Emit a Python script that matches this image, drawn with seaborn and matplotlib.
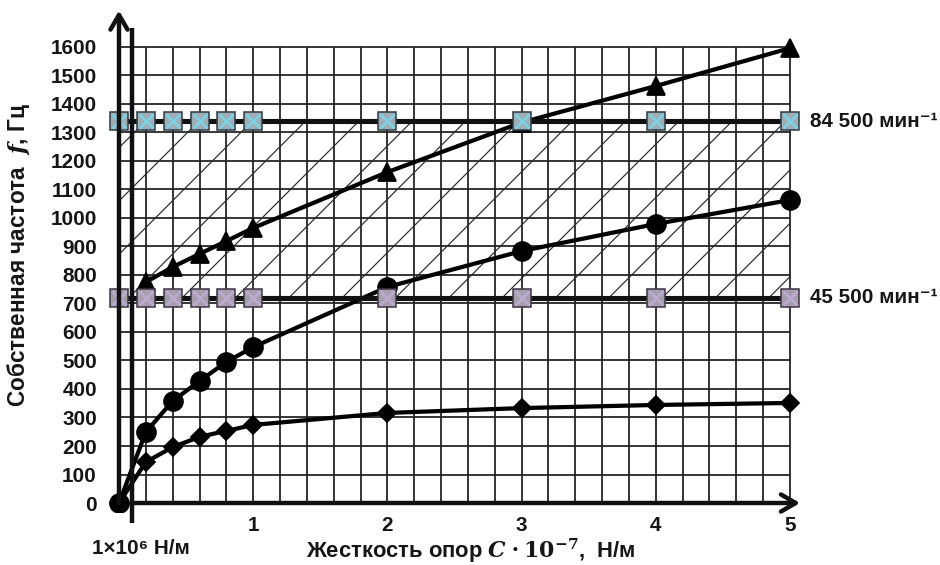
import numpy as np
import matplotlib
matplotlib.use("Agg")
import matplotlib.pyplot as plt
import seaborn as sns

# ---------------- data ----------------
x_tri = [0.2, 0.4, 0.6, 0.8, 1.0, 2, 3, 4, 5]
freq_tri = [775, 828, 874, 919, 965, 1161, 1335, 1463, 1596]
x_full = [0, 0.2, 0.4, 0.6, 0.8, 1.0, 2, 3, 4, 5]
freq_circle = [0, 249, 358, 428, 495, 547, 758, 884, 979, 1063]
freq_diamond = [0, 144, 196, 232, 253, 274, 316, 333, 344, 351]
limit_x = [0, 0.2, 0.4, 0.6, 0.8, 1.0, 2, 3, 4, 5]
limit_high = 1340
limit_low = 720
limit_labels = ["84 500 мин⁻¹", "45 500 мин⁻¹"]
y_ticks = list(range(0, 1700, 100))
x_ticks = [1, 2, 3, 4, 5]
x_tick_labels = ["1", "2", "3", "4", "5"]
origin_label = "1×10⁶ Н/м"
x_label = r"Жесткость опор $\mathit{C}\cdot\mathbf{10}^{\mathbf{-7}}$,  Н/м"
y_label = r"Собственная частота  $\mathit{f}$, Гц"

# ---------------- style ----------------
sns.set_theme(style="white")
plt.rcParams["font.family"] = ["Liberation Sans", "DejaVu Sans"]
plt.rcParams["font.weight"] = "bold"
plt.rcParams["mathtext.fontset"] = "dejavuserif"
plt.rcParams["hatch.linewidth"] = 0.55
plt.rcParams["hatch.color"] = "#2f2f2f"

TXT = "#161616"
FS = 9.3

fig = plt.figure(figsize=(940 / 160, 565 / 160), dpi=160)
ax = fig.add_axes([0.11232, 0.0946, 0.74952, 0.8878])
ax.set_xlim(-0.1, 5.15)
ax.set_ylim(-30, 1730)
for s in ax.spines.values():
    s.set_visible(False)

# grid (only inside data area)
ax.vlines(np.arange(0, 5.001, 0.2), 0, 1600, color="#222222", lw=0.8, zorder=1)
ax.hlines(y_ticks, 0, 5, color="#222222", lw=0.8, zorder=1)

# hatched band between the two speed limits
ax.fill_between([0, 5], limit_low, limit_high, facecolor="none",
                edgecolor="#2f2f2f", hatch="/", lw=0, zorder=1.5)

# curves
common = dict(ax=ax, color="black", lw=1.9, markeredgecolor="black",
              markeredgewidth=0.8, zorder=3, legend=False)
sns.lineplot(x=x_tri, y=freq_tri, marker="^", markersize=8.5, **common)
sns.lineplot(x=x_full, y=freq_circle, marker="o", markersize=8.5, **common)
sns.lineplot(x=x_full, y=freq_diamond, marker="D", markersize=6, **common)

# speed-limit lines with square markers
for val, face, xcol, edge in [(limit_high, "#9fadb4", "#7fcfe0", "#2d3d48"),
                              (limit_low, "#a59fab", "#bba9d0", "#3d3547")]:
    sns.lineplot(x=limit_x, y=[val] * len(limit_x), ax=ax, color="#111111",
                 lw=2.3, marker="s", markersize=7.8, markerfacecolor=face,
                 markeredgecolor=edge, markeredgewidth=0.7, zorder=4, legend=False)
    ax.plot(limit_x, [val] * len(limit_x), ls="none", marker="x",
            markersize=6, markeredgewidth=1.3, color=xcol, zorder=4.5)

# labels for the limits
for val, lab in zip([limit_high, limit_low], limit_labels):
    ax.text(5.15, val, lab, fontsize=FS, color=TXT, va="center", ha="left",
            fontweight="bold", clip_on=False)

# axes with arrows
ax.annotate("", xy=(0, 1728), xytext=(0, 0),
            arrowprops=dict(arrowstyle="->,head_length=0.55,head_width=0.32",
                            lw=2.0, color="#111111", shrinkA=0, shrinkB=0),
            annotation_clip=False, zorder=6)
ax.annotate("", xy=(5.075, 0), xytext=(0.1, 0),
            arrowprops=dict(arrowstyle="->,head_length=0.55,head_width=0.32",
                            lw=2.0, color="#111111", shrinkA=0, shrinkB=0),
            annotation_clip=False, zorder=6)
ax.plot([0.1, 0.1], [-70, 1665], color="#111111", lw=2.0, zorder=6,
        clip_on=False, solid_capstyle="butt")

# ticks
ax.set_yticks(y_ticks)
ax.set_yticklabels([str(v) for v in y_ticks])
ax.set_xticks(x_ticks)
ax.set_xticklabels(x_tick_labels)
ax.tick_params(axis="both", length=0, labelsize=FS, labelcolor=TXT)
ax.tick_params(axis="y", pad=3.9)
ax.tick_params(axis="x", pad=1.8)
for t in ax.get_xticklabels() + ax.get_yticklabels():
    t.set_fontweight("bold")

ax.text(0.16, -158, origin_label, fontsize=FS, color=TXT, ha="center",
        va="center", fontweight="bold", clip_on=False)

ax.set_xlabel(x_label, fontsize=9.9, color=TXT, fontweight="bold")
ax.xaxis.set_label_coords(0.5187, -0.0787)
ax.xaxis.label.set_va("center")
ax.set_ylabel(y_label, fontsize=10.2, color=TXT, fontweight="bold")
ax.yaxis.set_label_coords(-0.1243, 0.5115)
ax.yaxis.label.set_va("center")

fig.savefig("out.png", dpi=160)
